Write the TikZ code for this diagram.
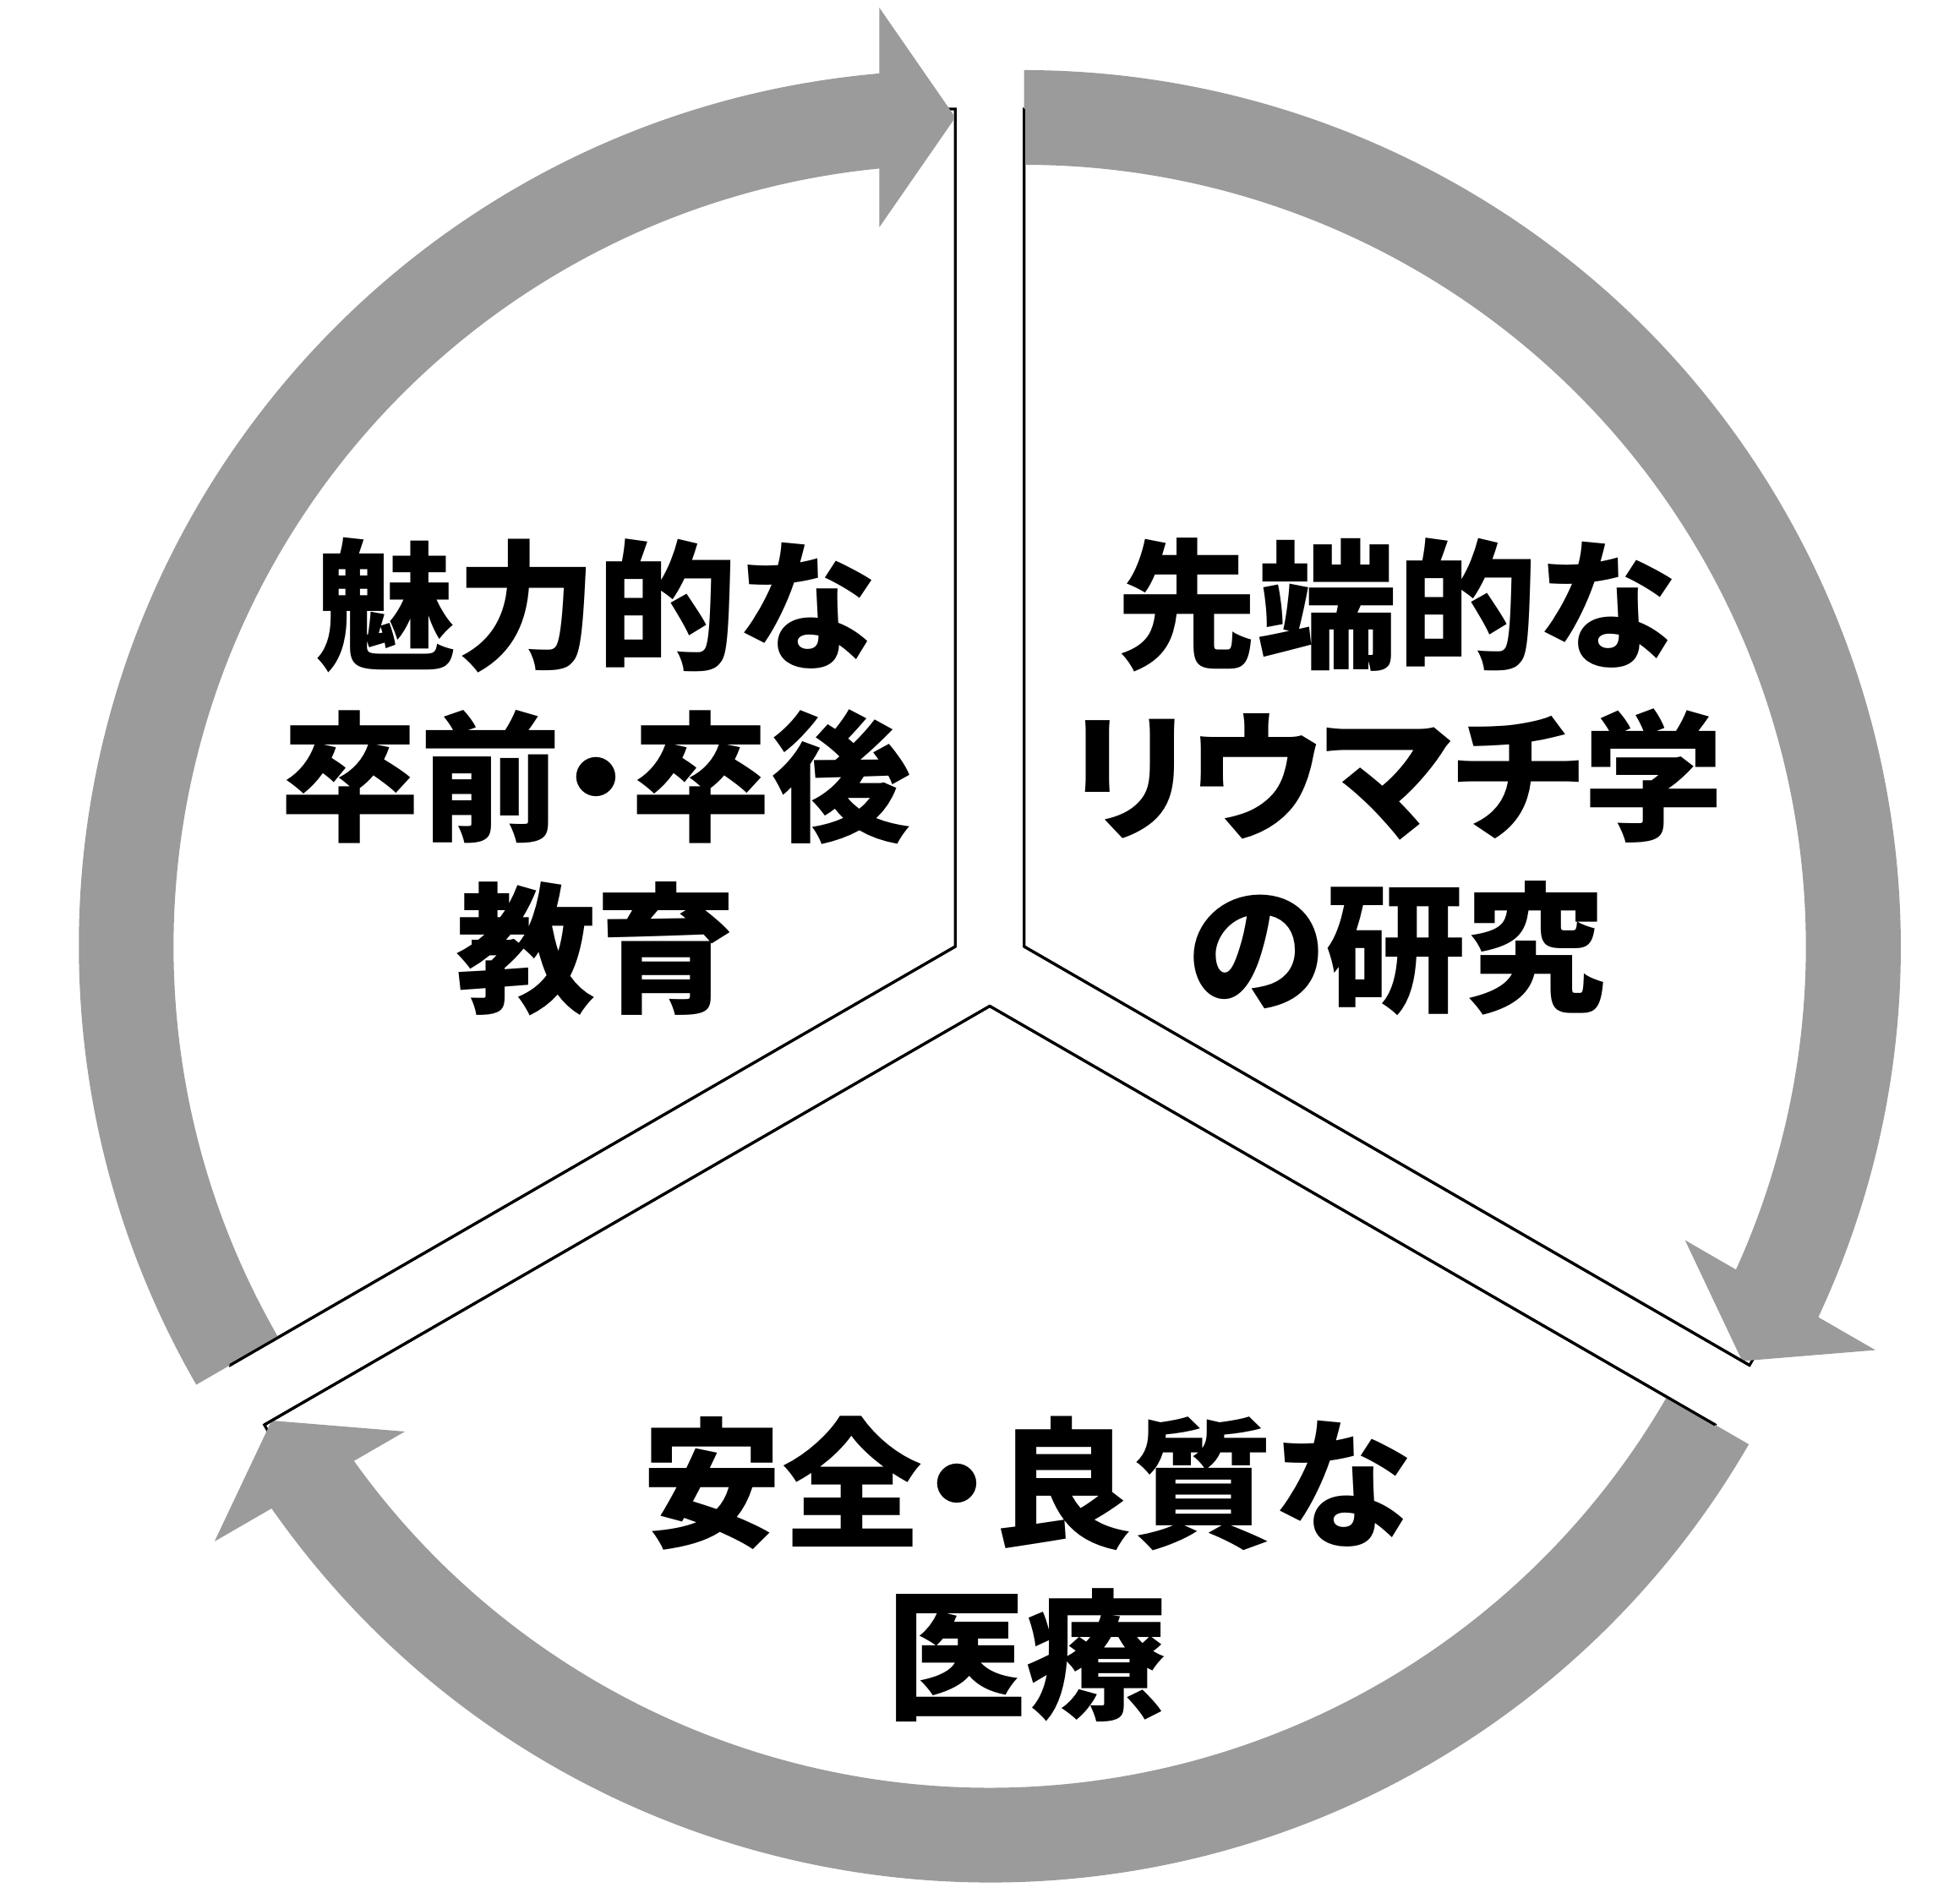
\documentclass[tikz,border=0pt]{standalone}
\usepackage{fontspec}
\newfontfamily\jpfont{Noto Sans CJK JP}[RawFeature=+palt]
\definecolor{arrowgray}{RGB}{155,155,155}
\begin{document}
\begin{tikzpicture}[
  sector/.style={draw=black, line width=0.9pt, fill=white, line join=miter},
  edge/.style={draw=black, line width=0.9pt, line cap=butt},
  ringarrow/.style={fill=arrowgray},
  label/.style={font=\jpfont\bfseries\fontsize{47.2}{57.7}\selectfont, align=center, inner sep=0pt}
]
\useasboundingbox (0,0) rectangle (23.19,22.39);
\coordinate (O) at (11.71,10.955);
\coordinate (L) at (11.303,11.19);
\coordinate (R) at (12.117,11.19);
\coordinate (B) at (11.71,10.485);
% sectors of the exploded pie
\draw[sector] (L) -- ++(90:9.91) arc[start angle=90,end angle=210,radius=9.91] -- cycle;
\draw[sector] (R) -- ++(-30:9.91) arc[start angle=-30,end angle=90,radius=9.91] -- cycle;
\draw[sector] (B) -- ++(210:9.91) arc[start angle=210,end angle=330,radius=9.91] -- cycle;
% curved arrows
\foreach \c/\a in {L/90,R/-30,B/210}{
  \begin{scope}[shift={(\c)},rotate=\a]
    \fill[ringarrow] (9.81,0) -- (11.11,0.9) -- (4.979:10.37)
      arc[start angle=4.979,end angle=120,radius=10.37]
      -- (120:9.25) arc[start angle=120,end angle=5.584,radius=9.25]
      -- (8.51,0.9) -- cycle;
  \end{scope}
}
% radial edges on top
\draw[edge] (L) -- ++(90:9.91);
\draw[edge] (L) -- ++(210:9.91);
\draw[edge] (R) -- ++(90:9.91);
\draw[edge] (R) -- ++(-30:9.91);
\draw[edge] (B) -- ++(210:9.91);
\draw[edge] (B) -- ++(330:9.91);
% labels
\node[label] (edu) at (7.05,13.20) {魅力的な\\卒前・卒後\\教育};
\node[label] (res) at (16.52,13.20) {先端的な\\リウマチ学\\の研究};
\node[label] (care) at (12.14,3.82) {安全・良質な\\医療};
\end{tikzpicture}
\end{document}
